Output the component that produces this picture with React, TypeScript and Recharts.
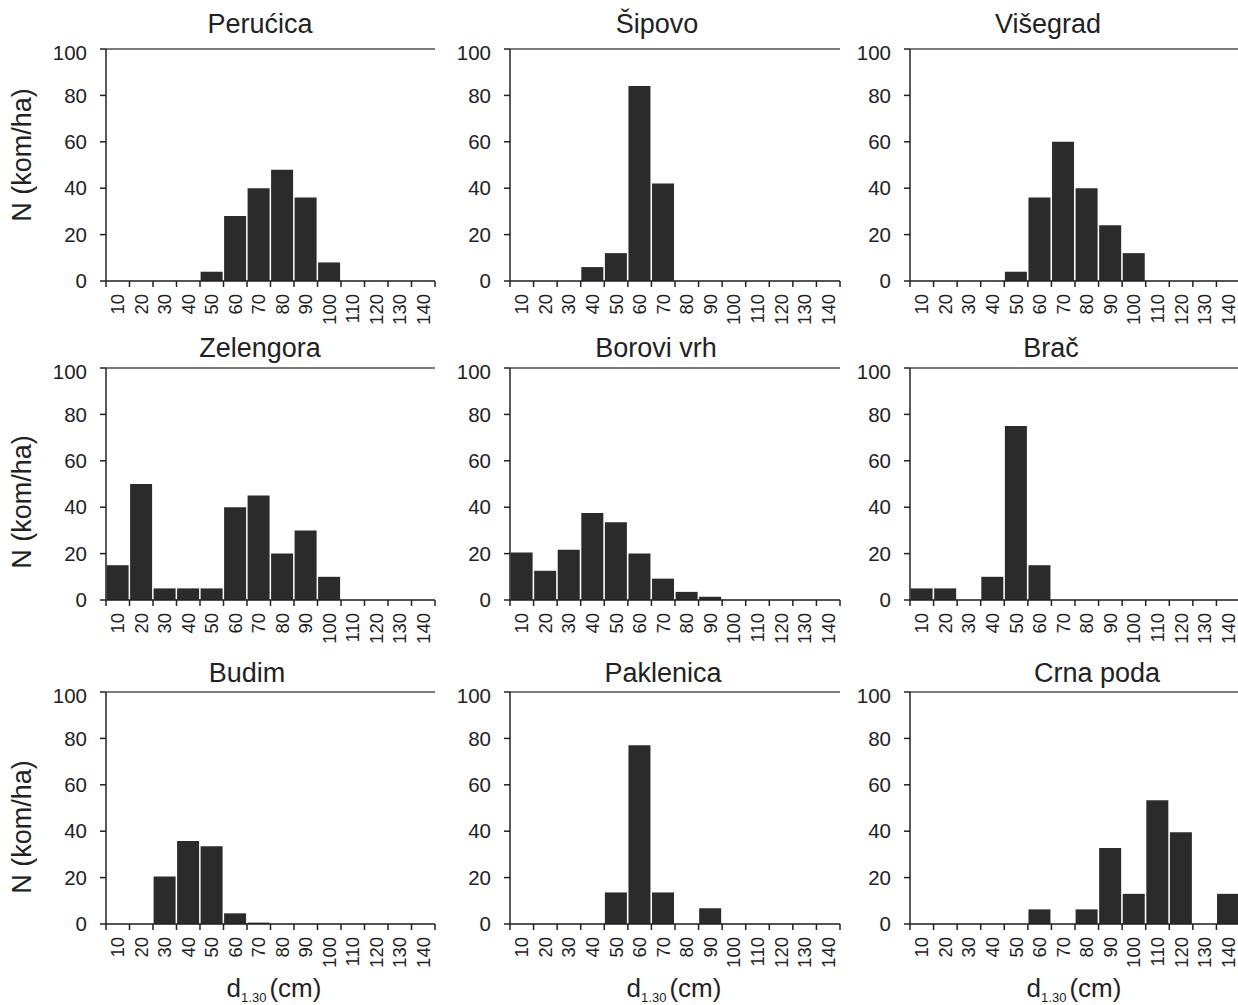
import React from 'react';
import { BarChart, Bar, XAxis, YAxis, CartesianGrid, ReferenceLine } from 'recharts';

const categories = [10, 20, 30, 40, 50, 60, 70, 80, 90, 100, 110, 120, 130, 140];
const yTicks = [0, 20, 40, 60, 80, 100];

const perucica = [0, 0, 0, 0, 4, 28, 40, 48, 36, 8, 0, 0, 0, 0];
const sipovo = [0, 0, 0, 6, 12, 84, 42, 0, 0, 0, 0, 0, 0, 0];
const visegrad = [0, 0, 0, 0, 4, 36, 60, 40, 24, 12, 0, 0, 0, 0];
const zelengora = [15, 50, 5, 5, 5, 40, 45, 20, 30, 10, 0, 0, 0, 0];
const boroviVrh = [20.5, 12.6, 21.7, 37.5, 33.5, 20, 9.2, 3.5, 1.4, 0, 0, 0, 0, 0];
const brac = [5, 5, 0, 10, 75, 15, 0, 0, 0, 0, 0, 0, 0, 0];
const budim = [0, 0, 20.5, 35.8, 33.5, 4.6, 0.6, 0, 0, 0, 0, 0, 0, 0];
const paklenica = [0, 0, 0, 0, 13.6, 77, 13.6, 0, 6.8, 0, 0, 0, 0, 0];
const crnaPoda = [0, 0, 0, 0, 0, 6.3, 0, 6.3, 32.8, 13, 53.3, 39.6, 0, 13];

const titles = ['Perućica', 'Šipovo', 'Višegrad', 'Zelengora', 'Borovi vrh', 'Brač', 'Budim', 'Paklenica', 'Crna poda'];
const series = [perucica, sipovo, visegrad, zelengora, boroviVrh, brac, budim, paklenica, crnaPoda];

// layout
const COL_LEFT = [106, 510, 910];
const COL_W = [329, 330, 330];
const ROW_TOP = [49, 368, 692];
const PLOT_H = 232;
const Y_W = 60;
const TOP_M = 8;
const X_H = 60;
const TICK_SIZE = 6;
const TICK_MARGIN = 6;
const TITLE_X = [260, 657, 1048, 260, 656, 1051, 247, 663, 1097];
const TITLE_Y = [33, 357, 682];
const YLABEL_Y = [155, 502, 827];
const XLABEL_X = [274, 674, 1074];

const FONT = '"Liberation Sans", Arial, Helvetica, sans-serif';
const TEXT = '#222';
const BAR = '#2b2b2b';

const XTick = (props: any) => {
  const { x, y, payload, index, band } = props;
  const axisY = y - TICK_SIZE - TICK_MARGIN;
  const isLast = index === categories.length - 1;
  return (
    <g>
      <line x1={x - band / 2} x2={x - band / 2} y1={axisY} y2={axisY + TICK_SIZE} stroke={TEXT} strokeWidth={1.5} />
      {isLast && (
        <line x1={x + band / 2} x2={x + band / 2} y1={axisY} y2={axisY + TICK_SIZE} stroke={TEXT} strokeWidth={1.5} />
      )}
      <text
        transform={`translate(${x},${y + 1}) rotate(-90)`}
        textAnchor="end"
        dominantBaseline="central"
        fontSize={18.5}
        fontFamily={FONT}
        fill={TEXT}
      >
        {payload.value}
      </text>
    </g>
  );
};

function Panel({ idx }: { idx: number }) {
  const col = idx % 3;
  const row = Math.floor(idx / 3);
  const plotW = COL_W[col];
  const band = plotW / categories.length;
  const data = categories.map((c, i) => ({ d: String(c), n: series[idx][i] }));
  const width = Y_W + plotW + 2;
  const height = TOP_M + PLOT_H + X_H;
  return (
    <div style={{ position: 'absolute', left: COL_LEFT[col] - Y_W, top: ROW_TOP[row] - TOP_M }}>
      <BarChart
        width={width}
        height={height}
        data={data}
        margin={{ top: TOP_M, right: 2, left: 0, bottom: 0 }}
        barCategoryGap={0.6}
      >
        <CartesianGrid vertical={false} stroke="#e0e0e0" strokeWidth={1.2} />
        <XAxis
          dataKey="d"
          type="category"
          height={X_H}
          interval={0}
          tickLine={false}
          tickSize={TICK_SIZE}
          tickMargin={TICK_MARGIN}
          axisLine={{ stroke: TEXT, strokeWidth: 1.5 }}
          tick={(p: any) => <XTick {...p} band={band} />}
        />
        <YAxis
          yAxisId="left"
          type="number"
          domain={[0, 100]}
          ticks={yTicks}
          width={Y_W}
          tickSize={TICK_SIZE}
          tickMargin={13}
          axisLine={{ stroke: TEXT, strokeWidth: 1.5 }}
          tickLine={{ stroke: TEXT, strokeWidth: 1.5 }}
          tick={{ fontSize: 20.5, fill: TEXT, fontFamily: FONT }}
        />
        <YAxis
          yAxisId="right"
          orientation="right"
          type="number"
          domain={[0, 100]}
          width={0}
          tick={false}
          tickLine={false}
          axisLine={{ stroke: '#555', strokeWidth: 1.5 }}
        />
        <ReferenceLine yAxisId="left" y={100} stroke="#555" strokeWidth={1.5} />
        <Bar yAxisId="left" dataKey="n" fill={BAR} isAnimationActive={false} />
      </BarChart>
    </div>
  );
}

export default function App() {
  return (
    <div
      style={{
        position: 'absolute',
        left: 0,
        top: 0,
        width: 1238,
        height: 1005,
        overflow: 'hidden',
        background: '#fff',
        fontFamily: FONT,
      }}
    >
      {series.map((_, i) => (
        <Panel key={i} idx={i} />
      ))}
      <svg width={1238} height={1005} style={{ position: 'absolute', left: 0, top: 0, pointerEvents: 'none' }}>
        {titles.map((t, i) => (
          <text
            key={t}
            x={TITLE_X[i]}
            y={TITLE_Y[Math.floor(i / 3)]}
            textAnchor="middle"
            fontSize={27}
            fontFamily={FONT}
            fill={TEXT}
          >
            {t}
          </text>
        ))}
        {YLABEL_Y.map((cy, i) => (
          <text
            key={'yl' + i}
            transform={`translate(22,${cy}) rotate(-90)`}
            textAnchor="middle"
            dominantBaseline="central"
            fontSize={27}
            fontFamily={FONT}
            fill={TEXT}
          >
            N (kom/ha)
          </text>
        ))}
        {XLABEL_X.map((cx, i) => (
          <text key={'xl' + i} x={cx} y={997} textAnchor="middle" fontFamily={FONT} fill={TEXT} fontSize={26}>
            <tspan>d</tspan>
            <tspan fontSize={13} dy={5}>1.30</tspan>
            <tspan dx={3} dy={-5}>(cm)</tspan>
          </text>
        ))}
      </svg>
    </div>
  );
}
